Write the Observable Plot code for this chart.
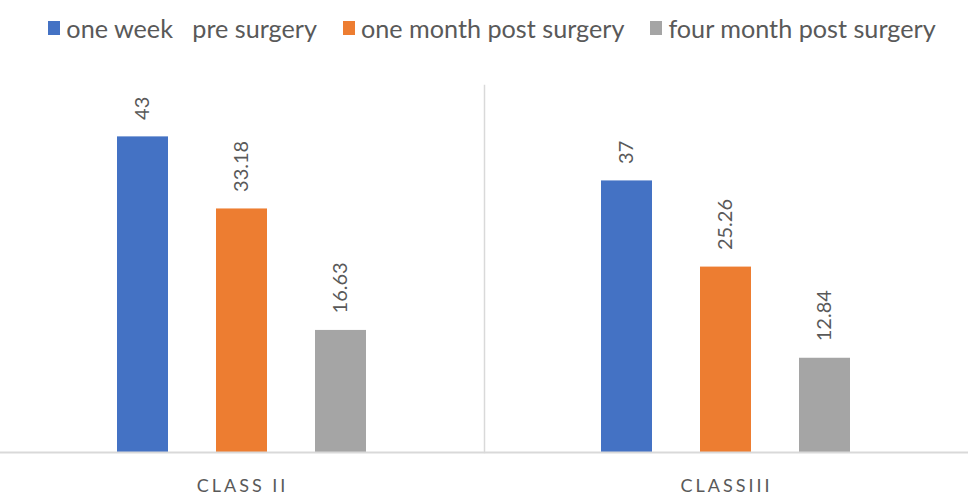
<!DOCTYPE html>
<html>
<head>
<meta charset="utf-8">
<script src="https://cdn.jsdelivr.net/npm/d3@7"></script>
<script src="https://cdn.jsdelivr.net/npm/@observablehq/plot@0.6"></script>
<style>
  html, body { margin: 0; padding: 0; background: #fff; }
  body { width: 968px; height: 496px; overflow: hidden; font-family: Lato, "Open Sans", sans-serif; }
  #legend { height: 55px; box-sizing: border-box; padding-top: 0px; padding-left: 16px; display: flex; justify-content: center; gap: 26px; color: #595959; font-size: 25.2px; line-height: 30px; }
  #legend .item { display: flex; align-items: center; white-space: pre; }
  #legend .sw { width: 12px; height: 14px; margin-right: 6px; }
</style>
</head>
<body>
<div id="legend"></div>
<div id="chart"></div>
<script>
const classes = ["CLASS II", "CLASSIII"];
const seriesNames = ["one week   pre surgery", "one month post surgery", "four month post surgery"];
const seriesColors = ["#4472C4", "#ED7D31", "#A5A5A5"];
const classIIValues = [43, 33.18, 16.63];
const classIIIValues = [37, 25.26, 12.84];

const rows = [];
seriesNames.forEach((s, i) => {
  rows.push({cls: classes[0], series: s, value: classIIValues[i]});
  rows.push({cls: classes[1], series: s, value: classIIIValues[i]});
});

const legend = document.getElementById("legend");
seriesNames.forEach((s, i) => {
  const it = document.createElement("div");
  it.className = "item";
  const sw = document.createElement("span");
  sw.className = "sw";
  sw.style.background = seriesColors[i];
  const tx = document.createElement("span");
  tx.textContent = s;
  it.appendChild(sw); it.appendChild(tx);
  legend.appendChild(it);
});

const chart = Plot.plot({
  width: 968,
  height: 441,
  marginTop: 30,
  marginBottom: 44,
  marginLeft: 0,
  marginRight: 0,
  style: {fontFamily: "Lato, 'Open Sans', sans-serif", color: "#595959", background: "#fff"},
  fx: {domain: classes, padding: 0, axis: null},
  x: {domain: seriesNames, paddingInner: 0.48, paddingOuter: 1.18, axis: null},
  y: {domain: [0, 50], axis: null},
  color: {domain: seriesNames, range: seriesColors},
  marks: [
    Plot.frame({anchor: "left", fx: [classes[1]], stroke: "#d9d9d9", strokeWidth: 1.5}),
    Plot.barY(rows, {fx: "cls", x: "series", y: "value", fill: "series"}),
    Plot.ruleY([0], {stroke: "#d9d9d9", strokeWidth: 2}),
    Plot.text(rows, {fx: "cls", x: "series", y: "value", text: d => String(d.value), rotate: -90, textAnchor: "start", lineAnchor: "middle", dy: -17, fontSize: 20, fill: "#595959"}),
    Plot.text(classes, {fx: d => d, text: d => d, frameAnchor: "bottom", dy: 34, lineAnchor: "middle", fontSize: 18, fill: "#595959", ariaLabel: "category"})
  ]
});
chart.querySelectorAll("text").forEach(t => {
  if (classes.includes(t.textContent)) t.setAttribute("letter-spacing", "3");
});
document.getElementById("chart").appendChild(chart);
</script>
</body>
</html>
